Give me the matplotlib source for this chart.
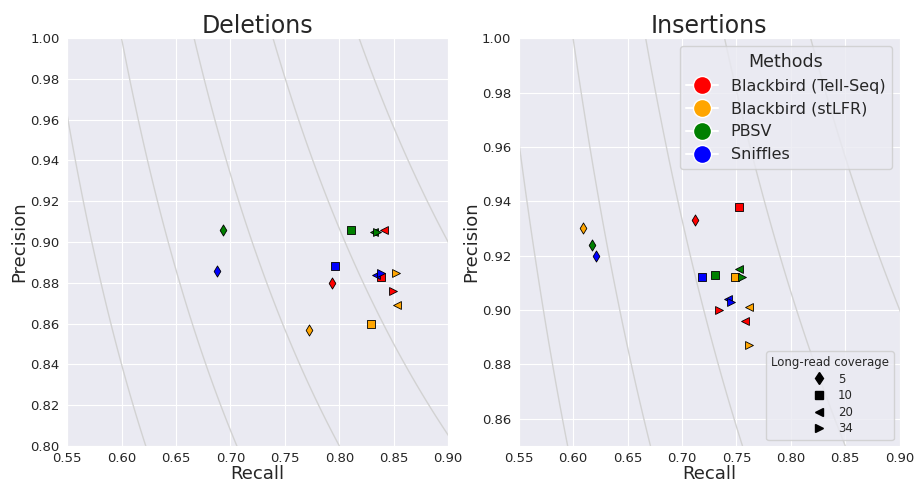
import numpy as np
import matplotlib
matplotlib.use("Agg")
import matplotlib.pyplot as plt
import seaborn as sns
from matplotlib.lines import Line2D
from matplotlib.ticker import MultipleLocator, FormatStrFormatter

methods = ["Blackbird (Tell-Seq)", "Blackbird (stLFR)", "PBSV", "Sniffles"]
colors = ["red", "orange", "green", "blue"]
coverages = ["5", "10", "20", "34"]
markers = ["d", "s", "<", ">"]
f1_levels = [0.7, 0.75, 0.8, 0.85, 0.9]

# recall / precision per method, one value per coverage (5, 10, 20, 34)
del_recall = {
    "Blackbird (Tell-Seq)": [0.793, 0.838, 0.841, 0.849],
    "Blackbird (stLFR)": [0.772, 0.829, 0.853, 0.852],
    "PBSV": [0.693, 0.811, 0.832, 0.835],
    "Sniffles": [0.688, 0.796, 0.834, 0.838],
}
del_precision = {
    "Blackbird (Tell-Seq)": [0.880, 0.883, 0.906, 0.876],
    "Blackbird (stLFR)": [0.857, 0.860, 0.869, 0.885],
    "PBSV": [0.906, 0.906, 0.905, 0.905],
    "Sniffles": [0.886, 0.888, 0.884, 0.885],
}
ins_recall = {
    "Blackbird (Tell-Seq)": [0.712, 0.752, 0.758, 0.734],
    "Blackbird (stLFR)": [0.609, 0.749, 0.762, 0.762],
    "PBSV": [0.617, 0.730, 0.752, 0.755],
    "Sniffles": [0.621, 0.718, 0.742, 0.745],
}
ins_precision = {
    "Blackbird (Tell-Seq)": [0.933, 0.938, 0.896, 0.900],
    "Blackbird (stLFR)": [0.930, 0.912, 0.901, 0.887],
    "PBSV": [0.924, 0.913, 0.915, 0.912],
    "Sniffles": [0.920, 0.912, 0.904, 0.903],
}

sns.set_style("darkgrid")

fig, axes = plt.subplots(1, 2, figsize=(9.19, 4.83), dpi=100)
fig.subplots_adjust(left=0.073, right=0.979, bottom=0.077, top=0.921, wspace=0.185)

panels = [
    (axes[0], "Deletions", del_recall, del_precision, (0.80, 1.00)),
    (axes[1], "Insertions", ins_recall, ins_precision, (0.85, 1.00)),
]

rr, pp = np.meshgrid(np.linspace(0.5, 0.95, 400), np.linspace(0.75, 1.0, 400))
ff = 2 * rr * pp / (rr + pp)

for ax, title, rec, prec, ylim in panels:
    ax.contour(rr, pp, ff, levels=f1_levels, colors="#d2d2d2", linewidths=1.0, zorder=1)
    for m, c in zip(methods, colors):
        for i, mk in enumerate(markers):
            ax.scatter(rec[m][i], prec[m][i], marker=mk, color=c, s=32,
                       edgecolors="black", linewidths=0.6, zorder=3)
    ax.set_xlim(0.55, 0.90)
    ax.set_ylim(*ylim)
    ax.xaxis.set_major_locator(MultipleLocator(0.05))
    ax.yaxis.set_major_locator(MultipleLocator(0.02))
    ax.xaxis.set_major_formatter(FormatStrFormatter("%.2f"))
    ax.yaxis.set_major_formatter(FormatStrFormatter("%.2f"))
    ax.set_title(title, fontsize=17, pad=4)
    ax.set_xlabel("Recall", fontsize=13, labelpad=0)
    ax.set_ylabel("Precision", fontsize=13, labelpad=1)
    ax.tick_params(labelsize=9.5)
    ax.tick_params(axis="x", pad=1)
    ax.tick_params(axis="y", pad=2)

method_handles = [Line2D([0], [0], marker="o", color="w", markerfacecolor=c,
                         markersize=13, label=m) for m, c in zip(methods, colors)]
leg1 = axes[1].legend(handles=method_handles, title="Methods", loc="upper right",
                      fontsize=11.5, title_fontsize=12.5)
axes[1].add_artist(leg1)

cov_handles = [Line2D([0], [0], marker=mk, color="black", linestyle="none",
                      markersize=6, label=cv) for mk, cv in zip(markers, coverages)]
axes[1].legend(handles=cov_handles, title="Long-read coverage", loc="lower right",
               fontsize=8.5, title_fontsize=8.5, labelspacing=0.3, handletextpad=0.6)

plt.savefig("out.png", dpi=100)
